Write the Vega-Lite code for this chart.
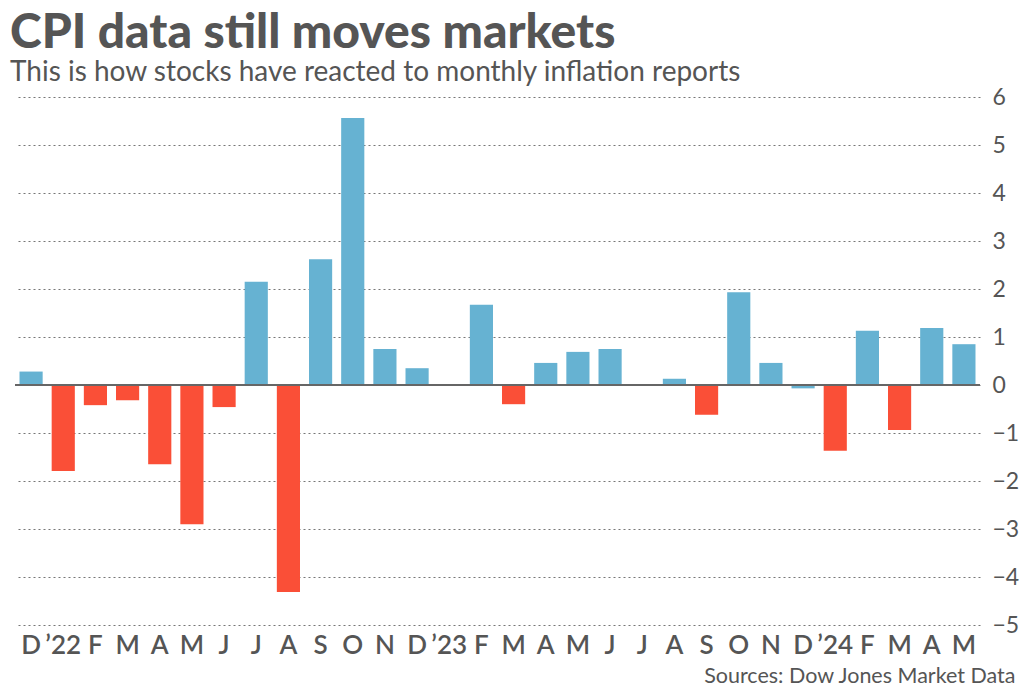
{
  "$schema": "https://vega.github.io/schema/vega-lite/v6.json",
  "autosize": {"type": "none"},
  "width": 965,
  "height": 528,
  "padding": {"left": 15, "top": 97, "right": 44, "bottom": 65},
  "background": "white",
  "title": {
    "text": "CPI data still moves markets",
    "subtitle": "This is how stocks have reacted to monthly inflation reports",
    "anchor": "start",
    "frame": "group",
    "dx": -5,
    "offset": -1,
    "font": "Lato",
    "fontSize": 48,
    "fontWeight": 900,
    "color": "#555555",
    "subtitleFont": "Lato",
    "subtitleFontSize": 28,
    "subtitleColor": "#555555",
    "subtitlePadding": 1
  },
  "config": {
    "view": {"stroke": null},
    "axis": {"labelFont": "Lato", "titleFont": "Lato"}
  },
  "data": {
    "values": [
      {"month": "2021-12", "change": 0.28, "dir": "up"},
      {"month": "2022-01", "change": -1.79, "dir": "down"},
      {"month": "2022-02", "change": -0.42, "dir": "down"},
      {"month": "2022-03", "change": -0.32, "dir": "down"},
      {"month": "2022-04", "change": -1.65, "dir": "down"},
      {"month": "2022-05", "change": -2.9, "dir": "down"},
      {"month": "2022-06", "change": -0.46, "dir": "down"},
      {"month": "2022-07", "change": 2.15, "dir": "up"},
      {"month": "2022-08", "change": -4.31, "dir": "down"},
      {"month": "2022-09", "change": 2.62, "dir": "up"},
      {"month": "2022-10", "change": 5.56, "dir": "up"},
      {"month": "2022-11", "change": 0.75, "dir": "up"},
      {"month": "2022-12", "change": 0.35, "dir": "up"},
      {"month": "2023-01", "change": -0.02, "dir": "up"},
      {"month": "2023-02", "change": 1.67, "dir": "up"},
      {"month": "2023-03", "change": -0.4, "dir": "down"},
      {"month": "2023-04", "change": 0.46, "dir": "up"},
      {"month": "2023-05", "change": 0.69, "dir": "up"},
      {"month": "2023-06", "change": 0.75, "dir": "up"},
      {"month": "2023-07", "change": 0.02, "dir": "up"},
      {"month": "2023-08", "change": 0.13, "dir": "up"},
      {"month": "2023-09", "change": -0.62, "dir": "down"},
      {"month": "2023-10", "change": 1.93, "dir": "up"},
      {"month": "2023-11", "change": 0.46, "dir": "up"},
      {"month": "2023-12", "change": -0.07, "dir": "up"},
      {"month": "2024-01", "change": -1.37, "dir": "down"},
      {"month": "2024-02", "change": 1.13, "dir": "up"},
      {"month": "2024-03", "change": -0.94, "dir": "down"},
      {"month": "2024-04", "change": 1.19, "dir": "up"},
      {"month": "2024-05", "change": 0.85, "dir": "up"}
    ]
  },
  "layer": [
    {
      "mark": {"type": "bar"},
      "encoding": {
        "x": {
          "field": "month",
          "type": "ordinal",
          "sort": null,
          "scale": {"paddingInner": 0.28, "paddingOuter": 0.14},
          "axis": {
            "orient": "bottom",
            "title": "Sources: Dow Jones Market Data",
            "titleFont": "Lato",
            "titleFontSize": 21.5,
            "titleFontWeight": "normal",
            "titleColor": "#555555",
            "titleAnchor": "end",
            "titleAlign": "right",
            "titleBaseline": "alphabetic",
            "titleX": 1000,
            "titleY": 57,
            "labelExpr": "substring(datum.value,5,7)=='01' ? '’'+substring(datum.value,2,4) : ['J','F','M','A','M','J','J','A','S','O','N','D'][toNumber(substring(datum.value,5,7))-1]",
            "labelAngle": 0,
            "labelFontSize": 26,
            "labelFontWeight": 600,
            "labelColor": "#555555",
            "labelPadding": 7,
            "domain": false,
            "ticks": false
          }
        },
        "y": {
          "field": "change",
          "type": "quantitative",
          "scale": {"domain": [-5, 6], "nice": false},
          "axis": {
            "orient": "right",
            "title": null,
            "values": [-5, -4, -3, -2, -1, 0, 1, 2, 3, 4, 5, 6],
            "labelFontSize": 23,
            "labelColor": "#555555",
            "labelPadding": 12,
            "domain": false,
            "ticks": false,
            "grid": true,
            "gridColor": "#777777",
            "gridDash": [2, 3],
            "gridWidth": 1.2
          }
        },
        "color": {
          "field": "dir",
          "type": "nominal",
          "scale": {"domain": ["up", "down"], "range": ["#66b2d2", "#fa4f37"]},
          "legend": null
        }
      }
    },
    {
      "mark": {"type": "rule", "color": "#666666", "strokeWidth": 2},
      "encoding": {"y": {"datum": 0}}
    }
  ]
}
